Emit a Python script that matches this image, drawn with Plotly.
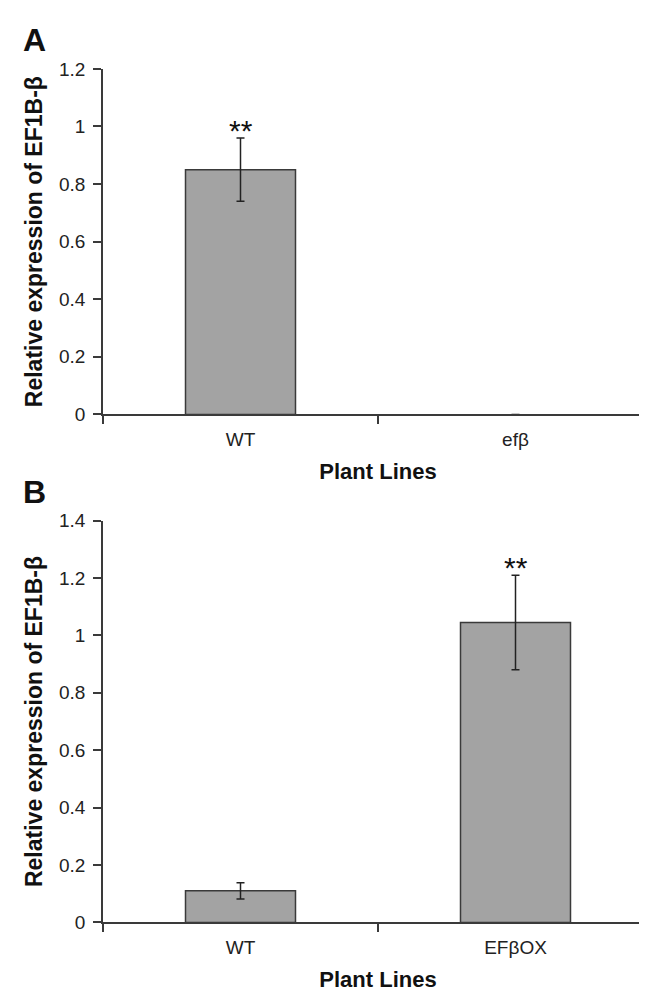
import plotly.graph_objects as go

# Panel A
cats_a = ["WT", "efβ"]
vals_a = [0.85, 0.0]
err_a = [0.11, 0.0]
stars_a = ["**", ""]

# Panel B
cats_b = ["WT", "EFβOX"]
vals_b = [0.11, 1.045]
err_b = [0.028, 0.165]
stars_b = ["", "**"]

ytitle = "<b>Relative expression of EF1B-β</b>"
xtitle = "<b>Plant Lines</b>"

FONT = "Liberation Sans, Arial, sans-serif"
AX = "#3a3a3a"
BAR = "#a3a3a3"

fig = go.Figure()

def add_bars(cats, vals, errs, xa, ya):
    lw = [1.5 if v > 0 else 0 for v in vals]
    fig.add_trace(go.Bar(x=cats, y=vals, width=0.4,
                         marker=dict(color=BAR, line=dict(color=AX, width=lw)),
                         error_y=dict(type="data", array=errs, color="#222", thickness=1.5, width=4),
                         xaxis=xa, yaxis=ya, showlegend=False))

add_bars(cats_a, vals_a, err_a, "x", "y")
add_bars(cats_b, vals_b, err_b, "x2", "y2")

H = 992.0
def fy(px):
    return (H - px) / H

common_x = dict(type="category", range=[-0.5, 1.5], showline=True, linecolor=AX, linewidth=1.5,
                ticks="outside", tickson="boundaries", ticklen=8, tickcolor=AX, tickwidth=1.5,
                showgrid=False, zeroline=False, ticklabelstandoff=7,
                tickfont=dict(family=FONT, size=19, color="#222"),
                title=dict(text=xtitle, font=dict(family=FONT, size=22, color="#111"), standoff=15))
common_y = dict(showline=True, linecolor=AX, linewidth=1.5, ticks="outside", ticklen=8,
                tickcolor=AX, tickwidth=1.5, showgrid=False, zeroline=False,
                ticklabelstandoff=4,
                tickfont=dict(family=FONT, size=19, color="#222"),
                title=dict(text=ytitle, font=dict(family=FONT, size=23, color="#111"), standoff=10))

fig.update_layout(
    width=647, height=992,
    margin=dict(l=0, r=0, t=0, b=0),
    paper_bgcolor="white", plot_bgcolor="white",
    xaxis=dict(common_x, domain=[95/647, 645/647], anchor="y"),
    yaxis=dict(common_y, domain=[fy(405), fy(52)], range=[0, 1.2], dtick=0.2, anchor="x",
               tickformat="~g"),
    xaxis2=dict(common_x, domain=[95/647, 645/647], anchor="y2"),
    yaxis2=dict(common_y, domain=[fy(924), fy(513.5)], range=[0, 1.4], dtick=0.2, anchor="x2",
                tickformat="~g"),
    bargap=0.6,
)

anns = []
for c, v, e, s in zip(cats_a, vals_a, err_a, stars_a):
    if s:
        anns.append(dict(x=c, y=v + e, xref="x", yref="y", text=s, showarrow=False,
                         yanchor="bottom", yshift=-11, font=dict(family=FONT, size=30, color="#111")))
for c, v, e, s in zip(cats_b, vals_b, err_b, stars_b):
    if s:
        anns.append(dict(x=c, y=v + e, xref="x2", yref="y2", text=s, showarrow=False,
                         yanchor="bottom", yshift=-11, font=dict(family=FONT, size=30, color="#111")))
anns.append(dict(x=13/647, y=fy(22), xref="paper", yref="paper", text="<b>A</b>", showarrow=False,
                 xanchor="left", yanchor="middle", font=dict(family=FONT, size=32, color="#111")))
anns.append(dict(x=13/647, y=fy(484), xref="paper", yref="paper", text="<b>B</b>", showarrow=False,
                 xanchor="left", yanchor="middle", font=dict(family=FONT, size=32, color="#111")))
fig.update_layout(annotations=anns)

fig.write_html("out.html")
